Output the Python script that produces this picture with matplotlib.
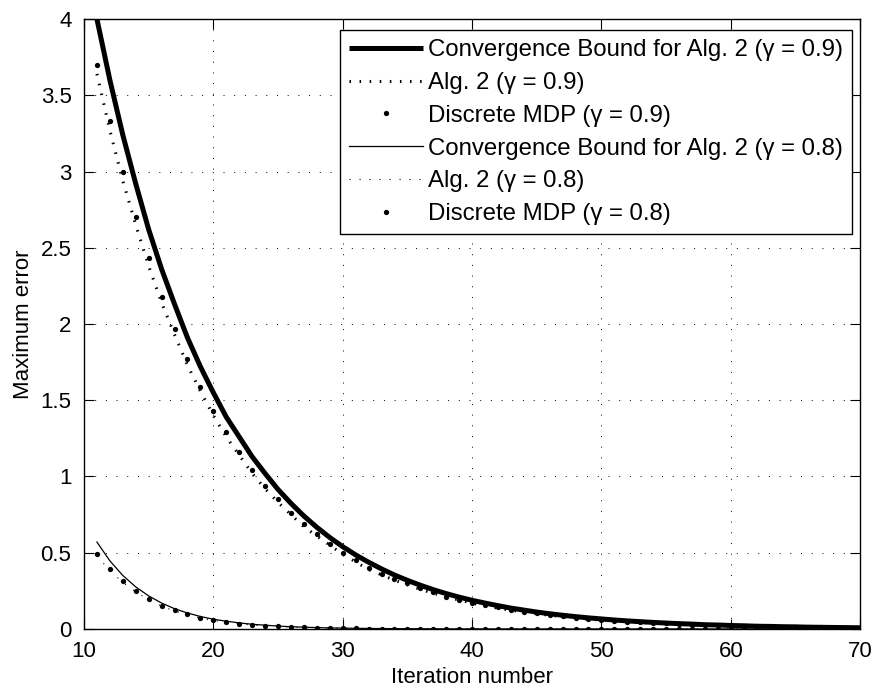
"""
Maximum error vs. iteration number for Alg. 2 and the discrete MDP,
with the convergence bound, for gamma = 0.9 and gamma = 0.8.
"""

import matplotlib
matplotlib.use("Agg")
import matplotlib.pyplot as plt

# iterations shown on the x axis
iterations = list(range(11, 71))

# gamma = 0.9
bound_09 = [4.00, 3.60, 3.24, 2.92, 2.62, 2.36, 2.13, 1.91, 1.72, 1.55,
            1.39, 1.26, 1.13, 1.02, 0.915, 0.824, 0.741, 0.667, 0.600, 0.540,
            0.486, 0.438, 0.394, 0.354, 0.319, 0.287, 0.258, 0.232, 0.209, 0.188,
            0.170, 0.153, 0.137, 0.124, 0.111, 0.100, 0.090, 0.081, 0.073, 0.066,
            0.059, 0.053, 0.048, 0.043, 0.039, 0.035, 0.032, 0.028, 0.026, 0.023,
            0.021, 0.018, 0.017, 0.015, 0.014, 0.012, 0.011, 0.010, 0.009, 0.008]
alg2_09 = [3.64, 3.27, 2.94, 2.65, 2.38, 2.14, 1.93, 1.73, 1.56, 1.40,
           1.26, 1.14, 1.02, 0.92, 0.83, 0.75, 0.67, 0.61, 0.55, 0.49,
           0.44, 0.39, 0.355, 0.32, 0.29, 0.26, 0.235, 0.21, 0.19, 0.17,
           0.152, 0.137, 0.123, 0.111, 0.100, 0.090, 0.081, 0.073, 0.065, 0.059,
           0.053, 0.048, 0.043, 0.039, 0.035, 0.031, 0.028, 0.025, 0.023, 0.021,
           0.019, 0.017, 0.015, 0.014, 0.012, 0.011, 0.010, 0.009, 0.008, 0.007]
mdp_09 = [3.70, 3.33, 3.00, 2.70, 2.43, 2.18, 1.97, 1.77, 1.59, 1.43,
          1.29, 1.16, 1.04, 0.94, 0.85, 0.76, 0.69, 0.62, 0.56, 0.50,
          0.45, 0.40, 0.36, 0.33, 0.30, 0.27, 0.24, 0.21, 0.19, 0.17,
          0.157, 0.141, 0.127, 0.114, 0.103, 0.093, 0.083, 0.075, 0.067, 0.061,
          0.055, 0.049, 0.044, 0.040, 0.036, 0.032, 0.029, 0.026, 0.024, 0.021,
          0.019, 0.017, 0.016, 0.014, 0.013, 0.011, 0.010, 0.009, 0.008, 0.007]

# gamma = 0.8
bound_08 = [0.570, 0.447, 0.351, 0.276, 0.217, 0.170, 0.133, 0.105, 0.082, 0.064,
            0.051, 0.040, 0.031, 0.025, 0.019, 0.015, 0.012, 0.009, 0.007, 0.006,
            0.0045, 0.0035, 0.0028, 0.0022, 0.0017, 0.0013, 0.0010, 0.0008, 0.0006, 0.0005,
            0.0004, 0.0003, 0.0002, 0.0002, 0.0001, 0.0001, 0.0001, 0.0, 0.0, 0.0,
            0.0, 0.0, 0.0, 0.0, 0.0, 0.0, 0.0, 0.0, 0.0, 0.0,
            0.0, 0.0, 0.0, 0.0, 0.0, 0.0, 0.0, 0.0, 0.0, 0.0]
alg2_08 = [0.480, 0.382, 0.306, 0.243, 0.192, 0.150, 0.118, 0.093, 0.072, 0.056,
           0.044, 0.034, 0.026, 0.020, 0.016, 0.012, 0.010, 0.008, 0.006, 0.005,
           0.004, 0.003, 0.002, 0.002, 0.001, 0.001, 0.001, 0.0, 0.0, 0.0,
           0.0, 0.0, 0.0, 0.0, 0.0, 0.0, 0.0, 0.0, 0.0, 0.0,
           0.0, 0.0, 0.0, 0.0, 0.0, 0.0, 0.0, 0.0, 0.0, 0.0,
           0.0, 0.0, 0.0, 0.0, 0.0, 0.0, 0.0, 0.0, 0.0, 0.0]
mdp_08 = [0.492, 0.391, 0.315, 0.249, 0.197, 0.153, 0.122, 0.096, 0.074, 0.057,
          0.045, 0.035, 0.027, 0.021, 0.017, 0.013, 0.010, 0.008, 0.006, 0.005,
          0.004, 0.003, 0.002, 0.002, 0.001, 0.001, 0.001, 0.0, 0.0, 0.0,
          0.0, 0.0, 0.0, 0.0, 0.0, 0.0, 0.0, 0.0, 0.0, 0.0,
          0.0, 0.0, 0.0, 0.0, 0.0, 0.0, 0.0, 0.0, 0.0, 0.0,
          0.0, 0.0, 0.0, 0.0, 0.0, 0.0, 0.0, 0.0, 0.0, 0.0]

x_ticks = [10, 20, 30, 40, 50, 60, 70]
y_ticks = [0, 0.5, 1, 1.5, 2, 2.5, 3, 3.5, 4]
y_tick_labels = ["0", "0.5", "1", "1.5", "2", "2.5", "3", "3.5", "4"]

plt.rcParams["font.family"] = ["Liberation Sans", "DejaVu Sans"]
FS = 16
LEG_FS = 17.3

fig = plt.figure(figsize=(8.74, 6.89), dpi=100)
ax = fig.add_axes([0.0961, 0.0871, 0.888, 0.8853])

ax.plot(iterations, bound_09, color="black", lw=3.6, solid_capstyle="butt",
        label="Convergence Bound for Alg. 2 (\u03b3 = 0.9)")
ax.plot(iterations, alg2_09, color="black", lw=2.2, dashes=(0.5, 2.8),
        dash_capstyle="butt", label="Alg. 2 (\u03b3 = 0.9)")
ax.plot(iterations, mdp_09, color="black", ls="none", marker="o", ms=3.8,
        mew=0, label="Discrete MDP (\u03b3 = 0.9)")
ax.plot(iterations, bound_08, color="black", lw=0.9,
        label="Convergence Bound for Alg. 2 (\u03b3 = 0.8)")
ax.plot(iterations, alg2_08, color="black", lw=0.8, dashes=(1, 8),
        dash_capstyle="butt", label="Alg. 2 (\u03b3 = 0.8)")
ax.plot(iterations, mdp_08, color="black", ls="none", marker="o", ms=3.8,
        mew=0, label="Discrete MDP (\u03b3 = 0.8)")

ax.set_xlim(10, 70)
ax.set_ylim(0, 4)
ax.set_xticks(x_ticks)
ax.set_yticks(y_ticks)
ax.set_yticklabels(y_tick_labels)
ax.tick_params(direction="in", length=7, width=0.8, top=True, right=True,
               labelsize=FS, pad=9)
ax.grid(True, color="black", lw=0.7, linestyle=(0, (1, 10)))
for s in ax.spines.values():
    s.set_linewidth(1.0)

ax.set_xlabel("Iteration number", fontsize=FS, labelpad=3)
ax.set_ylabel("Maximum error", fontsize=FS, labelpad=5)

leg = ax.legend(loc="upper right", bbox_to_anchor=(0.9897, 0.982),
                borderaxespad=0, fontsize=LEG_FS, numpoints=1, handlelength=3.05,
                handletextpad=0.22, labelspacing=0.45, borderpad=0.38,
                fancybox=False, framealpha=1, edgecolor="black")
leg.get_frame().set_linewidth(1.0)

fig.savefig("out.png", dpi=100)
